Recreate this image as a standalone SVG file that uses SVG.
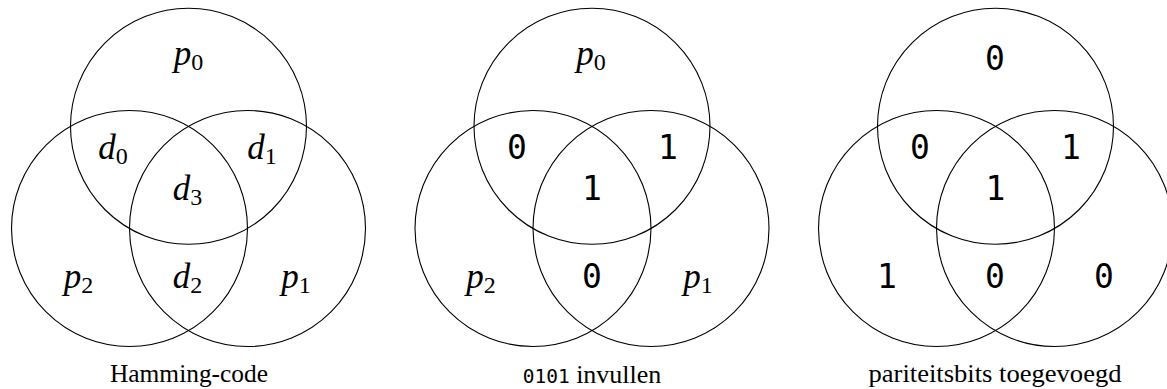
<svg xmlns="http://www.w3.org/2000/svg" width="1167" height="389" viewBox="0 0 1167 389">
<style>
.c{fill:none;stroke:#000;stroke-width:1.1}
.m{font-family:'Liberation Serif','Times New Roman','DejaVu Serif',serif;font-size:35px;text-anchor:middle;fill:#000}
.m .v{font-style:italic}
.m .s{font-size:24px;font-style:normal}
.b{font-family:'DejaVu Sans Mono',monospace;font-size:33px;text-anchor:middle;fill:#000}
.cap{font-family:'Liberation Serif','Times New Roman','DejaVu Serif',serif;font-size:26px;text-anchor:middle;fill:#000}
.capm{font-family:'DejaVu Sans Mono',monospace;font-size:19.5px}
</style>
<defs>
<g id="venn">
<circle class="c" cx="0" cy="126.3" r="118"/>
<circle class="c" cx="-59" cy="228.5" r="118"/>
<circle class="c" cx="59" cy="228.5" r="118"/>
</g>
</defs>
<g id="connectors"></g>
<g id="diagram1">
<use href="#venn" x="188.5" y="0"/>
<text class="m" x="188.5" y="65"><tspan class="v">p</tspan><tspan class="s" dy="5">0</tspan></text>
<text class="m" x="113" y="159"><tspan class="v">d</tspan><tspan class="s" dy="5">0</tspan></text>
<text class="m" x="262" y="159"><tspan class="v">d</tspan><tspan class="s" dy="5">1</tspan></text>
<text class="m" x="187.5" y="200"><tspan class="v">d</tspan><tspan class="s" dy="5">3</tspan></text>
<text class="m" x="78.5" y="288"><tspan class="v">p</tspan><tspan class="s" dy="5">2</tspan></text>
<text class="m" x="187.5" y="288"><tspan class="v">d</tspan><tspan class="s" dy="5">2</tspan></text>
<text class="m" x="296" y="288"><tspan class="v">p</tspan><tspan class="s" dy="5">1</tspan></text>
<text class="cap" x="189" y="382" textLength="158" lengthAdjust="spacingAndGlyphs">Hamming-code</text>
</g>
<g id="diagram2">
<use href="#venn" x="592" y="0"/>
<text class="m" x="591" y="65"><tspan class="v">p</tspan><tspan class="s" dy="5">0</tspan></text>
<text class="b" x="517" y="159">0</text>
<text class="b" x="668" y="159">1</text>
<text class="b" x="592" y="200">1</text>
<text class="m" x="481" y="288"><tspan class="v">p</tspan><tspan class="s" dy="5">2</tspan></text>
<text class="b" x="592" y="288">0</text>
<text class="m" x="698" y="288"><tspan class="v">p</tspan><tspan class="s" dy="5">1</tspan></text>
<text class="cap" x="592" y="383"><tspan class="capm">0101</tspan> invullen</text>
</g>
<g id="diagram3">
<use href="#venn" x="995.5" y="0"/>
<text class="b" x="995" y="70">0</text>
<text class="b" x="920" y="159">0</text>
<text class="b" x="1071" y="159">1</text>
<text class="b" x="995.5" y="200">1</text>
<text class="b" x="887" y="288">1</text>
<text class="b" x="995" y="288">0</text>
<text class="b" x="1104" y="288">0</text>
<text class="cap" x="995" y="382" textLength="253" lengthAdjust="spacingAndGlyphs">pariteitsbits toegevoegd</text>
</g>
</svg>
